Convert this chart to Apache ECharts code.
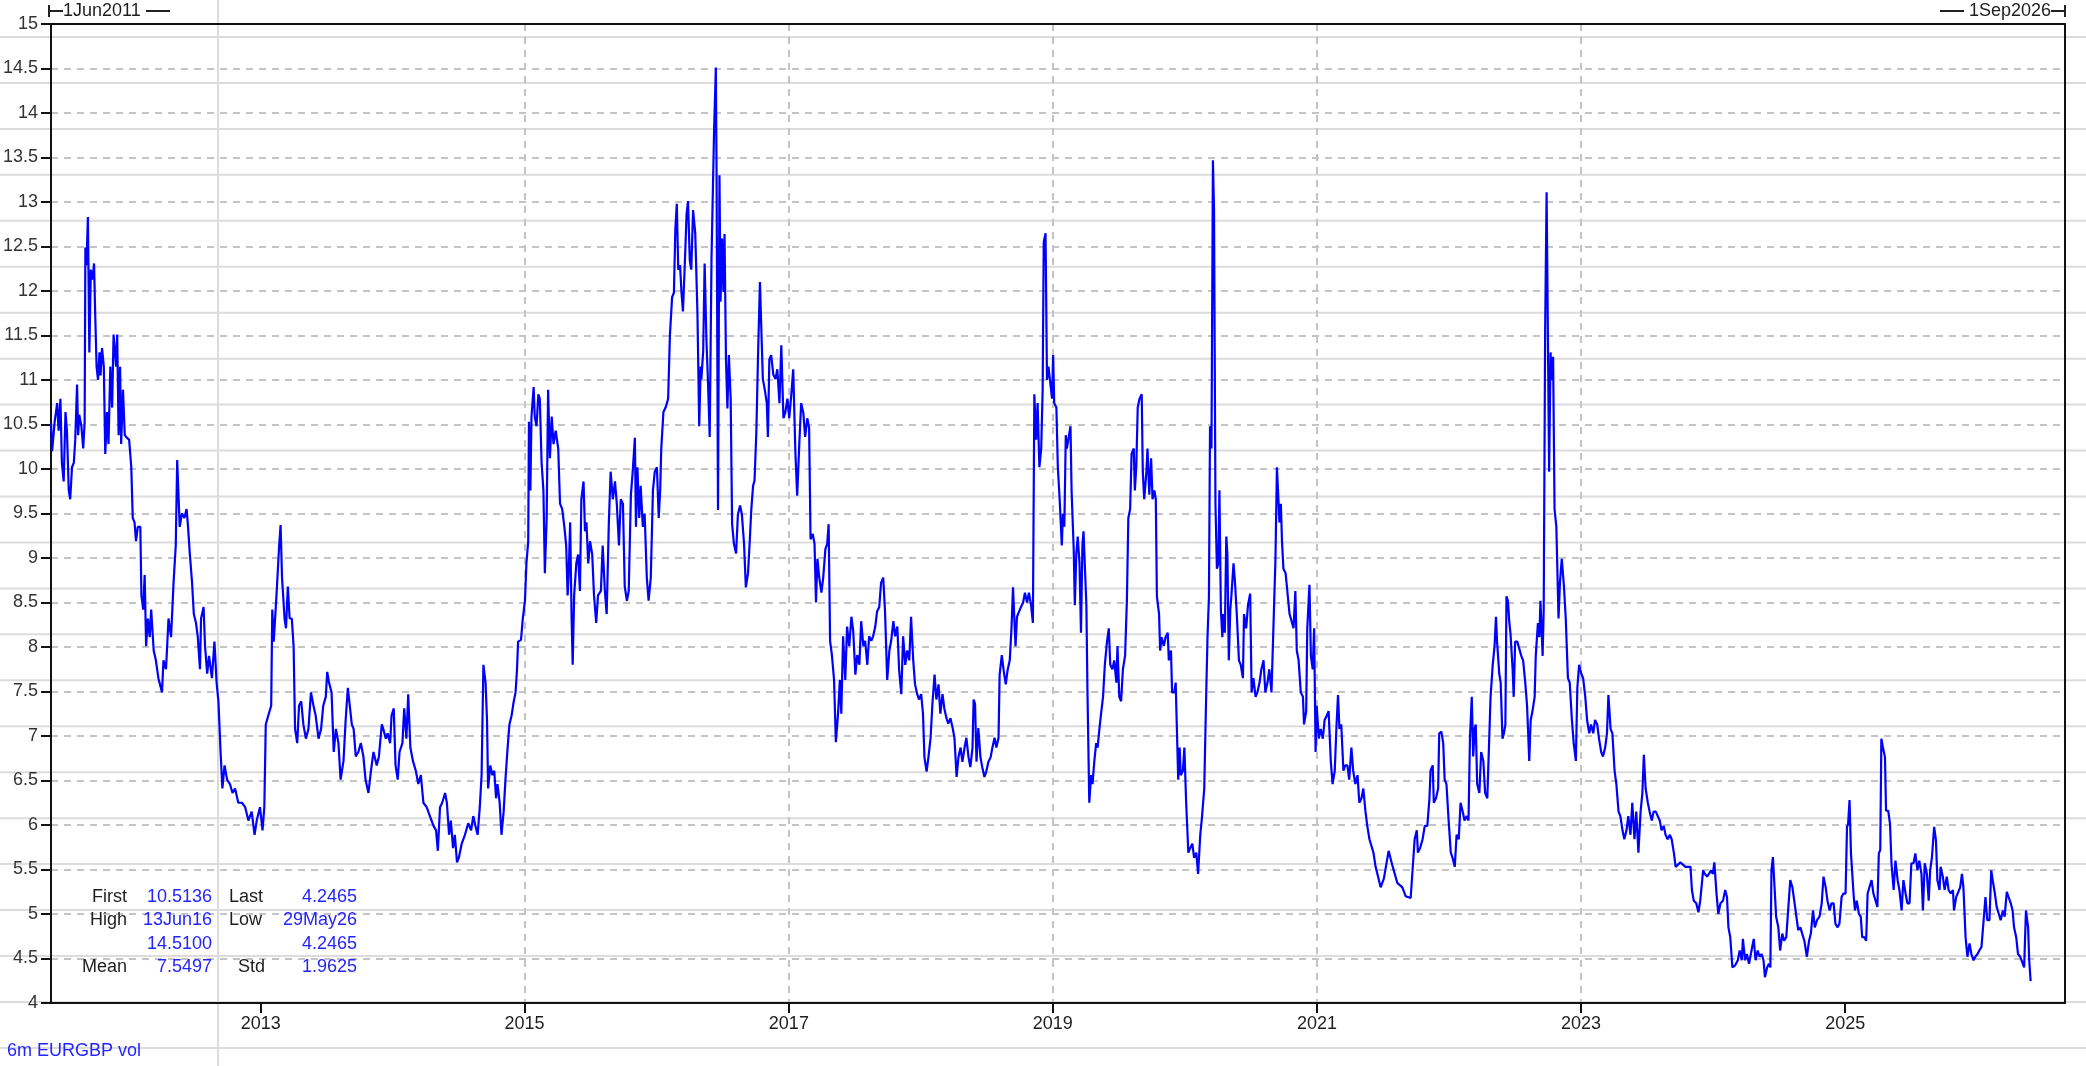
<!DOCTYPE html>
<html><head><meta charset="utf-8">
<script src="https://cdn.jsdelivr.net/npm/echarts@6/dist/echarts.min.js"></script>
<style>html,body{margin:0;padding:0;background:#fff;}#c{width:2086px;height:1066px;}</style>
</head><body><div id="c"></div>
<script>
// ---- data: [days since 1 Jun 2011, 6m EURGBP implied vol] ----
const yearTicks = [2013, 2015, 2017, 2019, 2021, 2023, 2025];
const rangeLabels = ['1Jun2011', '1Sep2026'];
const seriesName = '6m EURGBP vol';
const statNames = [['First', 'Last'], ['High', 'Low'], ['', ''], ['Mean', 'Std']];
const statValues = [['10.5136', '4.2465'], ['13Jun16', '29May26'], ['14.5100', '4.2465'], ['7.5497', '1.9625']];

const vol2011_2013 = [[0,10.5136],[3,10.2],[10,10.53],[17,10.74],[21,10.43],[26,10.79],[30,10.07],[35,9.86],[40,10.64],[44,10.43],
[49,9.76],[53,9.66],[58,10.02],[63,10.07],[67,10.33],[72,10.95],[75,10.38],[78,10.61],[84,10.48],[89,10.23],
[93,10.53],[95,12.49],[98,12.29],[102,12.83],[106,11.31],[110,12.24],[115,12.13],[119,12.31],[122,11.77],[126,11.15],
[130,11.0],[134,11.31],[137,11.05],[141,11.36],[146,11.15],[150,10.17],[155,10.64],[159,10.28],[164,11.15],[169,10.69],
[173,11.51],[180,11.15],[183,11.51],[187,10.38],[191,11.15],[194,10.28],[199,10.89],[204,10.38],[210,10.35],[216,10.33],
[222,10.02],[226,9.45],[231,9.4],[235,9.19],[240,9.35],[247,9.35],[250,8.58],[255,8.42],[259,8.81],[263,8.01],
[268,8.32],[273,8.11],[277,8.42],[284,7.96],[290,7.85],[297,7.65],[307,7.49],[311,7.85],[318,7.75],[325,8.32],
[332,8.11],[339,8.73],[345,9.14],[349,10.1],[353,9.66],[356,9.35],[362,9.5],[369,9.45],[375,9.55],[379,9.35],
[384,9.04],[390,8.73],[395,8.37],[401,8.27],[406,8.11],[412,7.75],[415,8.32],[422,8.45],[426,8.01],[432,7.7],
[437,7.9],[445,7.65],[452,8.06],[458,7.6],[463,7.39],[469,6.82],[474,6.41],[480,6.67],[487,6.51],[495,6.46],
[502,6.36],[509,6.41],[518,6.25],[528,6.25],[537,6.2],[546,6.05],[555,6.15],[563,5.89],[569,6.05],[578,6.2],
[585,5.94],[590,6.2],[594,7.13],[601,7.23],[609,7.34],[612,8.42],[616,8.06],[622,8.47],[625,8.68],[631,9.14],
[635,9.37],[639,8.78],[646,8.32],[650,8.21],[655,8.68],[660,8.32],[666,8.32],[671,8.01],[675,7.08],[681,6.92],
[686,7.34],[692,7.39],[698,7.13],[705,6.97],[712,7.08],[719,7.49],[726,7.34],[732,7.23],[740,6.97],[747,7.08],
[753,7.34],[760,7.44],[764,7.72],[769,7.6],[776,7.49],[782,6.82],[788,7.08],[795,6.92],[801,6.51],[809,6.72],
[815,7.18],[821,7.54],[826,7.54],[832,7.13],[837,7.08],[843,6.77],[850,6.82],[857,6.92],[864,6.77],[870,6.51],
[878,6.36],[885,6.61],[892,6.82],[901,6.67],[907,6.77],[915,7.13]];

const vol2013_2016 = [[919,7.08],[926,6.97],[931,7.03],[938,6.92],[942,7.23],[948,7.31],[953,6.67],[959,6.51],[964,6.82],[972,6.92],
[977,7.31],[983,6.97],[988,7.47],[994,6.87],[1001,6.72],[1009,6.61],[1016,6.46],[1023,6.56],[1030,6.25],[1039,6.2],
[1048,6.1],[1058,5.99],[1065,5.94],[1070,5.71],[1076,6.2],[1082,6.25],[1090,6.36],[1095,6.25],[1101,5.89],[1106,6.05],
[1112,5.74],[1117,5.89],[1123,5.58],[1128,5.63],[1136,5.79],[1145,5.89],[1154,6.02],[1162,5.94],[1168,6.1],[1174,5.99],
[1180,5.89],[1186,6.2],[1191,6.56],[1196,7.8],[1202,7.6],[1206,7.18],[1209,6.41],[1215,6.67],[1221,6.56],[1226,6.61],
[1231,6.3],[1235,6.46],[1241,6.25],[1246,5.89],[1252,6.15],[1257,6.51],[1263,6.87],[1268,7.13],[1274,7.23],[1280,7.39],
[1285,7.49],[1289,7.75],[1292,8.06],[1300,8.08],[1305,8.32],[1311,8.52],[1315,8.94],[1320,9.19],[1322,10.53],[1326,9.76],
[1329,10.59],[1335,10.92],[1338,10.59],[1343,10.48],[1348,10.84],[1352,10.79],[1357,10.07],[1362,9.76],[1366,8.83],[1371,9.45],
[1375,10.89],[1380,10.12],[1385,10.59],[1390,10.28],[1396,10.43],[1403,10.23],[1408,9.61],[1414,9.55],[1420,9.35],[1425,9.14],
[1429,8.58],[1432,8.83],[1436,9.4],[1440,8.32],[1443,7.8],[1447,8.58],[1453,8.94],[1458,9.04],[1463,8.63],[1467,9.66],
[1473,9.86],[1477,9.3],[1481,9.4],[1486,8.94],[1491,9.19],[1497,9.04],[1502,8.58],[1508,8.27],[1513,8.58],[1521,8.63],
[1526,9.14],[1532,8.63],[1537,8.37],[1543,9.4],[1548,9.97],[1554,9.66],[1560,9.86],[1565,9.61],[1571,9.14],[1576,9.66],
[1582,9.61],[1587,8.68],[1593,8.52],[1598,8.63],[1604,9.71],[1609,9.97],[1615,10.35],[1618,9.35],[1622,10.02],[1627,9.45],
[1631,9.81],[1637,9.35],[1642,9.5],[1648,8.78],[1653,8.52],[1659,8.78],[1665,9.76],[1670,9.97],[1676,10.02],[1681,9.45],
[1685,9.76],[1688,10.23],[1694,10.64],[1700,10.69],[1707,10.79],[1712,11.51],[1718,11.93],[1723,11.98],[1727,12.7],[1731,12.98],
[1735,12.24],[1740,12.29],[1744,11.98],[1748,11.77],[1753,12.29],[1758,12.86],[1762,13.01],[1767,12.34],[1771,12.24],[1776,12.91],
[1782,12.65],[1788,11.77],[1793,10.48],[1797,11.15]];

const vol2016_2018 = [[1799,11.01],[1804,11.33],[1808,12.31],[1813,11.44],[1817,11.01],[1822,10.36],[1827,12.37],[1831,12.37],[1834,13.78],[1839,14.51],
[1841,13.3],[1845,9.54],[1849,13.3],[1852,11.88],[1856,12.59],[1860,11.99],[1863,12.64],[1867,11.23],[1871,10.68],[1875,11.28],
[1880,10.79],[1884,9.38],[1889,9.16],[1895,9.05],[1900,9.49],[1906,9.59],[1911,9.49],[1917,9.16],[1922,8.67],[1928,8.83],
[1933,9.21],[1937,9.54],[1942,9.81],[1946,9.87],[1951,10.41],[1956,11.33],[1961,12.1],[1965,11.55],[1969,11.01],[1974,10.9],
[1980,10.74],[1983,10.36],[1987,11.23],[1992,11.28],[1998,11.06],[2004,11.01],[2009,11.12],[2015,10.74],[2020,11.39],[2026,10.57],
[2031,10.63],[2037,10.79],[2042,10.57],[2048,10.85],[2053,11.12],[2059,10.19],[2064,9.7],[2070,10.3],[2075,10.74],[2081,10.63],
[2086,10.36],[2092,10.57],[2097,10.46],[2101,9.21],[2107,9.27],[2112,9.16],[2116,8.5],[2120,8.99],[2125,8.78],[2131,8.61],
[2136,8.78],[2142,9.1],[2147,9.16],[2151,9.38],[2155,8.07],[2160,7.91],[2166,7.63],[2171,6.93],[2177,7.25],[2182,7.63],
[2186,7.25],[2191,8.12],[2197,7.63],[2202,8.23],[2208,8.01],[2214,8.34],[2219,8.18],[2225,7.69],[2230,7.91],[2236,7.8],
[2241,8.29],[2247,8.01],[2252,8.07],[2258,7.8],[2263,8.12],[2269,8.07],[2274,8.12],[2280,8.23],[2285,8.4],[2291,8.45],
[2296,8.72],[2302,8.78],[2307,8.4],[2313,7.63],[2319,7.96],[2324,8.07],[2330,8.29],[2335,8.12],[2341,8.23],[2346,7.74],
[2352,7.47],[2357,8.12],[2363,7.8],[2368,7.96],[2374,7.85],[2379,8.34],[2385,7.85],[2390,7.58],[2396,7.47],[2401,7.41],
[2407,7.47],[2412,7.25],[2416,6.76],[2422,6.6],[2427,6.76],[2433,6.98],[2438,7.36],[2444,7.69],[2449,7.41],[2455,7.58],
[2460,7.25],[2466,7.47],[2471,7.31],[2477,7.2],[2482,7.14],[2488,7.2],[2494,7.09],[2499,6.98],[2505,6.54],[2510,6.76],
[2516,6.87],[2521,6.71],[2527,6.87],[2532,6.98],[2538,6.76],[2543,6.65],[2549,6.87],[2552,7.41],[2556,7.36],[2560,6.71],
[2565,7.09],[2571,6.76],[2576,6.65],[2582,6.54],[2587,6.6],[2593,6.71],[2599,6.76],[2604,6.87],[2610,6.98],[2615,6.87],
[2621,6.98],[2624,7.69],[2630,7.91],[2635,7.74],[2641,7.58],[2646,7.74],[2652,7.85],[2657,8.23],[2661,8.67],[2665,8.29],
[2668,8.01],[2672,8.34],[2678,8.4],[2683,8.45],[2689,8.5],[2694,8.61],[2700,8.5],[2705,8.61]];

const vol2018_2021 = [[2711,8.47],[2716,8.27],[2720,10.84],[2725,10.33],[2729,10.74],[2734,10.02],[2739,10.23],[2743,10.89],[2746,12.55],[2751,12.65],
[2755,11.0],[2759,11.15],[2764,11.15],[2769,10.79],[2772,11.28],[2775,10.74],[2781,10.69],[2785,10.02],[2790,9.66],[2796,9.14],
[2799,9.5],[2803,9.35],[2807,10.38],[2810,10.23],[2816,10.38],[2820,10.48],[2823,9.76],[2829,9.09],[2832,8.47],[2836,9.04],
[2840,9.24],[2845,8.94],[2849,8.16],[2853,9.14],[2856,9.3],[2861,8.78],[2864,8.47],[2867,7.49],[2872,6.25],[2877,6.56],
[2881,6.46],[2886,6.72],[2891,6.92],[2895,6.87],[2900,7.08],[2904,7.23],[2910,7.44],[2915,7.8],[2921,8.06],[2926,8.21],
[2930,7.8],[2936,7.75],[2941,7.85],[2947,7.6],[2950,8.01],[2955,7.44],[2960,7.39],[2965,7.75],[2971,7.9],[2976,8.52],
[2980,9.45],[2985,9.55],[2989,10.17],[2995,10.23],[2998,9.76],[3002,10.02],[3006,10.69],[3011,10.79],[3017,10.84],[3020,9.97],
[3024,9.66],[3030,9.97],[3033,10.23],[3038,9.71],[3043,10.12],[3047,9.66],[3052,9.76],[3056,9.66],[3059,8.57],[3065,8.37],
[3068,7.96],[3072,8.11],[3078,8.01],[3083,8.11],[3089,8.16],[3092,7.85],[3098,7.96],[3101,7.49],[3107,7.49],[3111,7.6],
[3114,7.13],[3118,6.51],[3122,6.87],[3125,6.56],[3131,6.61],[3135,6.87],[3140,6.25],[3146,5.69],[3151,5.74],[3157,5.79],
[3162,5.63],[3168,5.69],[3173,5.45],[3179,5.89],[3184,6.1],[3190,6.41],[3195,7.39],[3199,8.11],[3203,8.57],[3206,10.48],
[3210,10.23],[3214,13.47],[3217,12.91],[3221,9.61],[3225,8.88],[3229,8.94],[3232,9.76],[3236,8.42],[3240,8.11],[3243,8.37],
[3247,8.16],[3251,9.24],[3254,9.04],[3258,7.85],[3262,8.42],[3265,8.57],[3271,8.94],[3275,8.73],[3280,8.37],[3286,7.85],
[3291,7.8],[3297,7.65],[3300,8.37],[3306,8.21],[3311,8.47],[3317,8.6],[3321,7.49],[3326,7.65],[3332,7.44],[3337,7.49],
[3343,7.6],[3348,7.75],[3354,7.85],[3359,7.49],[3365,7.6],[3370,7.75],[3376,7.49],[3381,7.49],[3387,8.99],[3391,10.02],
[3394,9.76],[3398,9.4],[3402,9.61],[3405,9.19],[3409,8.88],[3415,8.83],[3420,8.83],[3426,8.37],[3431,8.37],[3437,8.21],
[3442,8.63],[3446,7.96],[3451,7.85],[3457,7.49],[3463,7.44],[3466,7.13],[3472,7.28],[3475,8.21],[3481,8.7],[3485,7.9],
[3490,7.75],[3494,8.21],[3498,6.82],[3501,7.34],[3507,6.97],[3512,7.08],[3518,6.97],[3523,7.18],[3529,7.23],[3534,7.28],
[3540,6.72],[3545,6.46],[3551,6.61],[3556,7.13],[3560,7.46],[3564,7.08],[3569,7.13],[3575,6.61],[3580,6.67],[3586,6.67],
[3591,6.51],[3597,6.87],[3602,6.61],[3608,6.46],[3614,6.56],[3619,6.25],[3625,6.3],[3630,6.41],[3636,6.15],[3641,5.99],
[3647,5.84]];

const vol2021_2023 = [[3658,5.69],[3664,5.53],[3678,5.3],[3687,5.4],[3700,5.71],[3710,5.55],[3724,5.35],[3738,5.3],[3747,5.2],[3761,5.18],
[3772,5.84],[3778,5.94],[3781,5.69],[3787,5.74],[3794,5.84],[3800,5.99],[3807,5.99],[3813,6.3],[3816,6.61],[3822,6.67],
[3825,6.25],[3831,6.3],[3837,6.41],[3840,7.03],[3846,7.05],[3851,6.92],[3855,6.51],[3860,6.46],[3866,6.05],[3872,5.69],
[3877,5.63],[3883,5.53],[3888,5.89],[3894,5.84],[3899,6.25],[3905,6.15],[3910,6.05],[3916,6.1],[3921,6.05],[3925,6.97],
[3930,7.44],[3934,6.77],[3938,7.08],[3941,7.13],[3945,6.46],[3951,6.36],[3956,6.82],[3962,6.72],[3967,6.36],[3973,6.3],
[3978,6.3],[3982,7.44],[3988,7.8],[3993,8.01],[3997,8.34],[4000,8.06],[4006,7.7],[4010,7.6],[4015,6.97],[4019,7.03],
[4023,7.13],[4026,8.57],[4030,8.52],[4034,8.27],[4037,8.16],[4043,7.75],[4046,7.44],[4050,8.06],[4056,8.06],[4061,8.06],
[4067,7.9],[4072,7.85],[4078,7.6],[4083,7.34],[4089,6.72],[4093,7.18],[4098,7.28],[4104,7.44],[4107,7.9],[4113,8.27],
[4117,8.11],[4120,8.52],[4126,7.9],[4129,8.42],[4133,11.57],[4137,13.11],[4140,11.77],[4144,9.97],[4148,11.31],[4151,11.0],
[4155,11.26],[4159,9.55],[4164,9.35],[4170,8.32],[4174,8.73],[4179,8.99],[4185,8.68],[4190,8.32],[4196,7.65],[4201,7.6],
[4207,7.18],[4212,6.92],[4218,6.72],[4222,7.54],[4227,7.8],[4233,7.7],[4238,7.65],[4244,7.44],[4249,7.18],[4255,7.03],
[4260,7.13],[4266,7.03],[4271,7.18],[4277,7.13],[4282,6.97],[4288,6.82],[4293,6.77],[4299,6.87],[4304,7.03],[4308,7.46],
[4314,7.08],[4319,7.03],[4325,6.61],[4330,6.46],[4336,6.15],[4341,6.1],[4347,5.94],[4352,5.84],[4358,5.94],[4363,6.1],
[4369,5.89],[4374,6.25],[4380,5.84],[4385,6.15],[4391,5.69],[4397,6.15],[4402,6.36],[4406,6.79],[4411,6.41],[4417,6.25],
[4422,6.15],[4428,6.05],[4433,6.15],[4439,6.15],[4444,6.15],[4450,6.05],[4455,5.94],[4461,5.99],[4466,5.89],[4472,5.84],
[4478,5.89],[4483,5.84],[4489,5.69],[4494,5.53],[4507,5.58],[4521,5.53]];

const vol2023_2026 = [[4535,5.53],[4539,5.27],[4544,5.15],[4551,5.12],[4557,5.02],[4562,5.15],[4570,5.49],[4575,5.45],[4581,5.42],[4586,5.45],
[4592,5.49],[4597,5.45],[4601,5.58],[4607,5.23],[4612,5.0],[4618,5.12],[4625,5.15],[4631,5.27],[4636,5.19],[4640,4.85],
[4645,4.74],[4651,4.4],[4658,4.42],[4666,4.48],[4671,4.59],[4677,4.48],[4680,4.72],[4686,4.48],[4691,4.55],[4697,4.44],
[4702,4.55],[4710,4.72],[4715,4.48],[4721,4.59],[4726,4.52],[4732,4.55],[4737,4.48],[4741,4.29],[4747,4.4],[4752,4.44],
[4756,4.4],[4759,5.49],[4763,5.64],[4767,5.34],[4772,4.97],[4778,4.85],[4783,4.59],[4789,4.78],[4794,4.7],[4800,4.74],
[4805,4.72],[4811,5.38],[4817,5.3],[4822,5.15],[4828,4.97],[4833,4.82],[4839,4.85],[4844,4.78],[4850,4.7],[4857,4.52],
[4863,4.7],[4868,4.78],[4874,5.04],[4879,4.85],[4885,4.93],[4892,4.97],[4898,5.12],[4903,5.42],[4909,5.3],[4914,5.15],
[4920,5.04],[4925,5.12],[4931,5.12],[4936,4.89],[4942,4.85],[4947,4.89],[4953,5.19],[4958,5.23],[4964,5.23],[4968,5.98],
[4971,6.01],[4975,6.28],[4979,5.68],[4982,5.49],[4986,5.23],[4990,5.04],[4995,5.15],[5001,5.0],[5006,4.97],[5010,4.74],
[5016,4.74],[5021,4.7],[5025,5.23],[5030,5.3],[5036,5.38],[5041,5.23],[5047,5.15],[5052,5.08],[5056,5.68],[5060,5.72],
[5063,6.97],[5067,6.88],[5073,6.76],[5076,6.16],[5082,6.16],[5087,6.01],[5091,5.57],[5097,5.27],[5102,5.6],[5108,5.38],
[5113,5.27],[5119,5.04],[5124,5.38],[5130,5.23],[5135,5.12],[5141,5.12],[5146,5.57],[5152,5.57],[5157,5.68],[5163,5.49],
[5168,5.6],[5174,5.45],[5178,5.04],[5183,5.57],[5189,5.45],[5194,5.15],[5198,5.49],[5203,5.64],[5209,5.98],[5214,5.83],
[5218,5.38],[5224,5.27],[5227,5.53],[5233,5.42],[5238,5.27],[5244,5.42],[5249,5.27],[5255,5.23],[5261,5.27],[5264,5.04],
[5270,5.19],[5275,5.19],[5281,5.3],[5286,5.45],[5290,5.3],[5296,4.74],[5301,4.52],[5307,4.67],[5312,4.55],[5318,4.48],
[5323,4.52],[5329,4.55],[5334,4.59],[5340,4.63],[5345,4.63],[5351,5.19],[5356,4.93],[5362,4.93],[5367,5.49],[5371,5.38],
[5377,5.23],[5382,5.08],[5388,5.0],[5393,4.93],[5399,5.04],[5404,4.97],[5410,5.25],[5415,5.19],[5421,5.12],[5426,5.04],
[5430,4.85],[5436,4.74],[5441,4.55],[5447,4.52],[5452,4.52],[5458,4.4],[5463,5.04],[5469,4.85],[5472,4.48],[5476,4.2465]];

// ---- build ----
const START = Date.UTC(2011, 5, 1), END = Date.UTC(2026, 8, 1), DAY = 86400000;
const seriesData = [].concat(vol2011_2013, vol2013_2016, vol2016_2018, vol2018_2021, vol2021_2023, vol2023_2026)
  .map(p => [START + p[0] * DAY, p[1]]);
const yearTs = yearTicks.map(y => Date.UTC(y, 0, 1));

const FONT = '"Liberation Sans", Arial, sans-serif';
const BLUE = '#2424ff', INK = '#1e1e1e';
const W = 2086, H = 1066;
const G = {left: 49, top: 24, right: 21, bottom: 63};

const graphics = [];
// faint sheet grid behind the chart
for (let k = 0; k < 23; k++) {
  const y = 37 + 45.95 * k;
  graphics.push({type: 'line', z: -100, silent: true, shape: {x1: 0, y1: y, x2: W, y2: y}, style: {stroke: '#dcdcdc', lineWidth: 2}});
}
graphics.push({type: 'line', z: -100, silent: true, shape: {x1: 218, y1: 0, x2: 218, y2: H}, style: {stroke: '#dcdcdc', lineWidth: 2}});

function txt(x, y, text, fill, align) {
  return {type: 'text', x: x, y: y, silent: true, z: 10,
    style: {text: text, fill: fill, font: '18px ' + FONT, align: align, verticalAlign: 'middle', textAlign: align, textVerticalAlign: 'middle'}};
}
function seg(x1, y1, x2, y2) {
  return {type: 'line', silent: true, z: 10, shape: {x1: x1, y1: y1, x2: x2, y2: y2}, style: {stroke: '#222', lineWidth: 2}};
}
// range markers above the plot
const xl = G.left, xr = W - G.right;
graphics.push(seg(xl, 5, xl, 17), seg(xl, 11, xl + 14, 11), txt(xl + 14, 11, rangeLabels[0], INK, 'left'), seg(146, 11, 170, 11));
graphics.push(seg(xr, 5, xr, 17), seg(xr - 14, 11, xr, 11), txt(xr - 14, 11, rangeLabels[1], INK, 'right'), seg(1940, 11, 1964, 11));

// statistics block
const rowsY = [897, 920.5, 944, 967.5];
const nameX = [[127, 'right'], [229, 'left']];
const valX = [212, 357];
rowsY.forEach((y, r) => {
  [0, 1].forEach(c => {
    const nm = statNames[r][c];
    if (nm) {
      const nx = (c === 1 && nm === 'Std') ? 238 : nameX[c][0];
      graphics.push(txt(nx, y, nm, INK, nameX[c][1]));
    }
    graphics.push(txt(valX[c], y, statValues[r][c], BLUE, 'right'));
  });
});
graphics.push(txt(7, 1051, seriesName, BLUE, 'left'));

const chart = echarts.init(document.getElementById('c'), null, {renderer: 'canvas', width: W, height: H});
chart.setOption({
  animation: false,
  backgroundColor: 'transparent',
  grid: {left: G.left, top: G.top, right: G.right, bottom: G.bottom, show: false},
  xAxis: [{
    type: 'value', min: START, max: END, scale: true,
    axisLine: {show: true, lineStyle: {color: '#111', width: 2}},
    axisTick: {show: true, customValues: yearTs, length: 10, lineStyle: {color: '#111', width: 2}},
    axisLabel: {show: true, customValues: yearTs, formatter: v => String(new Date(v).getUTCFullYear()), fontSize: 18, fontFamily: FONT, color: INK, margin: 12},
    splitLine: {show: true, showMinLine: false, showMaxLine: false, lineStyle: {color: '#c4c4c4', width: 2, type: [7, 6]}}
  }, {
    type: 'value', position: 'top', min: START, max: END, scale: true,
    axisLine: {show: true, lineStyle: {color: '#111', width: 2}},
    axisTick: {show: false}, axisLabel: {show: false}, splitLine: {show: false}
  }],
  yAxis: [{
    type: 'value', min: 4, max: 15, interval: 0.5,
    axisLine: {show: true, lineStyle: {color: '#111', width: 2}},
    axisTick: {show: true, length: 10, lineStyle: {color: '#111', width: 2}},
    axisLabel: {fontSize: 18, fontFamily: FONT, color: '#333', margin: 13},
    splitLine: {show: true, showMinLine: false, showMaxLine: false, lineStyle: {color: '#c4c4c4', width: 2, type: [7, 6]}}
  }, {
    type: 'value', position: 'right', min: 4, max: 15, interval: 0.5,
    axisLine: {show: true, lineStyle: {color: '#111', width: 2}},
    axisTick: {show: false}, axisLabel: {show: false}, splitLine: {show: false}
  }],
  series: [{
    name: seriesName, type: 'line', data: seriesData, showSymbol: false, symbol: 'none',
    xAxisIndex: 0, yAxisIndex: 0,
    lineStyle: {color: '#0000ff', width: 2.2}, clip: true, z: 3
  }],
  graphic: {elements: graphics}
});
</script></body></html>
